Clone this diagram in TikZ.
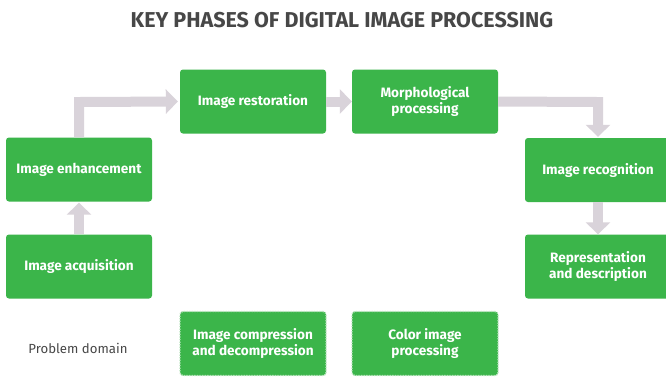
\documentclass[tikz,border=0pt]{standalone}
\usepackage{fontspec}
\setmainfont{Fira Sans}
\usetikzlibrary{arrows.meta}
\definecolor{boxgreen}{HTML}{3BB54A}
\definecolor{arrowgray}{HTML}{D9D3DA}
\definecolor{titlegray}{HTML}{474747}
\definecolor{dotgreen}{HTML}{B8E4BD}
\tikzset{
  phase/.style={fill=boxgreen, rounded corners=3pt, minimum width=146pt, minimum height=64pt,
    text=white, font=\fontsize{13.6}{16.5}\selectfont\bfseries, align=center, inner sep=0pt},
  dotphase/.style={phase, draw=dotgreen, line width=1.3pt, dash pattern=on 1.3pt off 1.3pt},
  flow/.style={draw=arrowgray, line width=10pt, line join=miter,
    -{Triangle[width=24pt,length=12pt]}},
}
\begin{document}
\begin{tikzpicture}[x=1pt,y=-1pt]
\useasboundingbox (0,0) rectangle (666,376);
\clip (0,0) rectangle (666,376);
\fill[white] (0,0) rectangle (666,376);
\node[text=titlegray, font=\fontsize{21.5}{25}\selectfont\bfseries] (title) at (342,20) {KEY PHASES OF DIGITAL IMAGE PROCESSING};
\node[phase] (enh) at (79,169.5) {Image enhancement};
\node[phase] (rest) at (253,101.5) {Image restoration};
\node[phase] (morph) at (425,101.5) {Morphological\\processing};
\node[phase] (recog) at (598,170) {Image recognition};
\node[phase] (acq) at (79,266.5) {Image acquisition};
\node[phase] (repr) at (598,266.5) {Representation\\and description};
\node[dotphase] (comp) at (253,343.5) {Image compression\\and decompression};
\node[dotphase] (color) at (425,343.5) {Color image\\processing};
\node[text=titlegray, font=\fontsize{13.2}{16}\selectfont] (dom) at (78,348) {Problem domain};
\coordinate (bend1) at (79,102);
\coordinate (bend2) at (598,102);
\draw[flow, shorten >=1pt] (acq.north) -- (enh.south);
\draw[flow, shorten >=2pt] (enh.north) -- (bend1) -- (rest.west);
\draw[flow, shorten >=0pt] (rest.east) -- (morph.west);
\draw[flow, shorten >=1pt] (morph.east) -- (bend2) -- (recog.north);
\draw[flow, shorten >=0pt] (recog.south) -- (repr.north);
\end{tikzpicture}
\end{document}
